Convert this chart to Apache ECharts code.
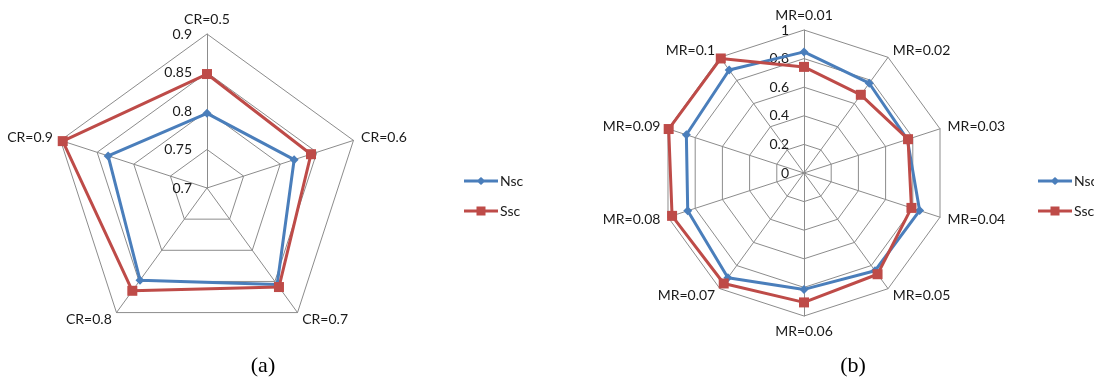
<!DOCTYPE html>
<html>
<head>
<meta charset="utf-8">
<script src="https://cdn.jsdelivr.net/npm/echarts@6/dist/echarts.min.js"></script>
<style>
  html, body { margin: 0; padding: 0; background: #fff; }
  #chart { width: 1094px; height: 381px; }
</style>
</head>
<body>
<div id="chart"></div>
<script>
// (a) crossover-rate sweep
const crCategories = ['CR=0.5', 'CR=0.6', 'CR=0.7', 'CR=0.8', 'CR=0.9'];
const crNsc = [0.797, 0.819, 0.855, 0.848, 0.835];
const crSsc = [0.848, 0.842, 0.859, 0.865, 0.897];
const crTicks = [0.7, 0.75, 0.8, 0.85, 0.9];

// (b) mutation-rate sweep
const mrCategories = ['MR=0.01', 'MR=0.02', 'MR=0.03', 'MR=0.04', 'MR=0.05',
                      'MR=0.06', 'MR=0.07', 'MR=0.08', 'MR=0.09', 'MR=0.1'];
const mrNsc = [0.847, 0.776, 0.76, 0.85, 0.845, 0.814, 0.905, 0.855, 0.865, 0.89];
const mrSsc = [0.742, 0.676, 0.765, 0.79, 0.875, 0.905, 0.955, 0.97, 0.995, 0.99];
const mrTicks = [0, 0.2, 0.4, 0.6, 0.8, 1];

const seriesNames = ['Nsc', 'Ssc'];
const captions = ['(a)', '(b)'];

const BLUE = '#4a7ebb';
const RED = '#be4b48';
const GRID = '#8c8c8c';
const TEXT = '#1a1a1a';
const FONT = 'Lato, "Open Sans", sans-serif';

// ECharts lays radar axes counterclockwise; reorder so they run clockwise.
const cw = arr => [arr[0]].concat(arr.slice(1).reverse());

function indicators(cats, ticks) {
  const list = cw(cats).map(name => ({ name: name, min: ticks[0], max: ticks[ticks.length - 1] }));
  list[0].axisLabel = {
    show: true,
    color: TEXT,
    fontSize: 14,
    fontFamily: FONT,
    margin: 15,
    showMinLabel: true,
    showMaxLabel: true,
    formatter: v => String(+(+v).toFixed(2))
  };
  return list;
}

function radar(cats, ticks, center, radius) {
  return {
    shape: 'polygon',
    center: center,
    radius: radius,
    startAngle: 90,
    splitNumber: ticks.length - 1,
    indicator: indicators(cats, ticks),
    axisName: { color: TEXT, fontSize: 14, fontFamily: FONT },
    nameGap: 8,
    axisLine: { lineStyle: { color: GRID, width: 1 } },
    splitLine: { lineStyle: { color: GRID, width: 1 } },
    splitArea: { show: false },
    axisTick: { show: false },
    axisLabel: { show: false }
  };
}

const diamondIcon = 'path://M0,3.6 L34,3.6 L34,6.4 L0,6.4 Z M17,1 L21.5,5 L17,9 L12.5,5 Z';
const squareIcon = 'path://M0,3.6 L34,3.6 L34,6.4 L0,6.4 Z M12.5,0.5 L21.5,0.5 L21.5,9.5 L12.5,9.5 Z';

function legend(left) {
  return {
    orient: 'vertical',
    left: left,
    top: 169,
    itemGap: 16,
    itemWidth: 34,
    itemHeight: 10,
    textStyle: { color: TEXT, fontSize: 14, fontFamily: FONT, padding: [0, 0, 0, -3] },
    data: [
      { name: seriesNames[0], icon: diamondIcon, itemStyle: { color: BLUE } },
      { name: seriesNames[1], icon: squareIcon, itemStyle: { color: RED } }
    ]
  };
}

function radarSeries(idx, nsc, ssc) {
  return {
    type: 'radar',
    radarIndex: idx,
    lineStyle: { width: 3 },
    data: [
      { name: seriesNames[0], value: cw(nsc), symbol: 'diamond', symbolSize: [9, 9],
        itemStyle: { color: BLUE }, lineStyle: { color: BLUE, width: 3 } },
      { name: seriesNames[1], value: cw(ssc), symbol: 'rect', symbolSize: 10,
        itemStyle: { color: RED }, lineStyle: { color: RED, width: 3 } }
    ]
  };
}

const chart = echarts.init(document.getElementById('chart'), null, { renderer: 'canvas' });
chart.setOption({
  backgroundColor: '#fff',
  animation: false,
  radar: [
    radar(crCategories, crTicks, [207, 188], 154),
    radar(mrCategories, mrTicks, [804, 173], 143)
  ],
  legend: [legend(459), legend(1033)],
  title: [
    { text: captions[0], left: 258, top: 350, textAlign: 'center',
      textStyle: { fontFamily: '"Liberation Serif", serif', fontSize: 22, fontWeight: 'normal', color: '#000' } },
    { text: captions[1], left: 848, top: 350, textAlign: 'center',
      textStyle: { fontFamily: '"Liberation Serif", serif', fontSize: 22, fontWeight: 'normal', color: '#000' } }
  ],
  series: [
    radarSeries(0, crNsc, crSsc),
    radarSeries(1, mrNsc, mrSsc)
  ]
});
</script>
</body>
</html>
